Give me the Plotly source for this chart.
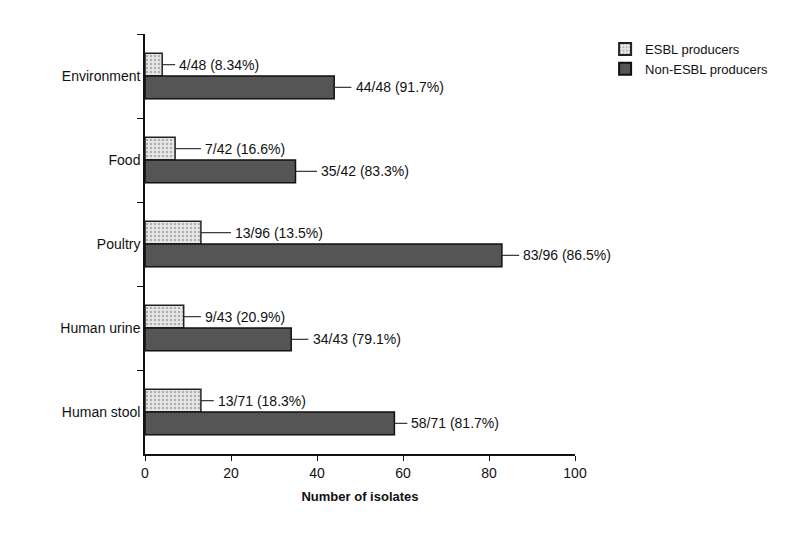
import plotly.graph_objects as go

categories = ["Environment", "Food", "Poultry", "Human urine", "Human stool"]
esbl = [4, 7, 13, 9, 13]
non_esbl = [44, 35, 83, 34, 58]
esbl_labels = ["4/48 (8.34%)", "7/42 (16.6%)", "13/96 (13.5%)", "9/43 (20.9%)", "13/71 (18.3%)"]
non_labels = ["44/48 (91.7%)", "35/42 (83.3%)", "83/96 (86.5%)", "34/43 (79.1%)", "58/71 (81.7%)"]
esbl_err = [3, 6, 7, 4, 3]
non_err = [4, 5, 4, 4, 3]

fig = go.Figure()
fig.add_trace(go.Bar(
    y=categories, x=esbl, orientation="h", name="ESBL producers",
    marker=dict(color="#e6e6e6", line=dict(color="#222", width=1.5),
                pattern=dict(shape=".", fgcolor="#777", bgcolor="#e6e6e6", size=4, solidity=0.3)),
    error_x=dict(type="data", array=esbl_err, arrayminus=[0] * 5, symmetric=False,
                 color="#333", thickness=1.2, width=0),
))
fig.add_trace(go.Bar(
    y=categories, x=non_esbl, orientation="h", name="Non-ESBL producers",
    marker=dict(color="#555555", line=dict(color="#111", width=1.5)),
    error_x=dict(type="data", array=non_err, arrayminus=[0] * 5, symmetric=False,
                 color="#333", thickness=1.2, width=0),
))

# value labels right of each error line
for i, c in enumerate(categories):
    fig.add_annotation(x=esbl[i] + esbl_err[i] + 0.5, y=c, yshift=11, text=esbl_labels[i],
                       xanchor="left", showarrow=False, font=dict(size=14, color="#111"))
    fig.add_annotation(x=non_esbl[i] + non_err[i] + 0.5, y=c, yshift=-11, text=non_labels[i],
                       xanchor="left", showarrow=False, font=dict(size=14, color="#111"))

fig.update_layout(
    width=797, height=545,
    barmode="group", bargap=0.46, bargroupgap=0,
    plot_bgcolor="white", paper_bgcolor="white",
    margin=dict(l=137, r=230, t=26, b=99, autoexpand=False),
    font=dict(family="Liberation Sans, Arial", size=14, color="#111"),
    legend=dict(x=1.07, y=1.0, xanchor="left", yanchor="top", font=dict(size=13),
                itemsizing="constant"),
)
fig.update_xaxes(range=[0, 100], dtick=20, showgrid=False, zeroline=False,
                 showline=True, linecolor="#111", linewidth=1.5, ticks="outside",
                 ticklen=5, tickcolor="#111",
                 title=dict(text="<b>Number of isolates</b>", standoff=12, font=dict(size=13)))
fig.update_yaxes(autorange="reversed", showgrid=False, showline=True, linecolor="#111",
                 linewidth=1.5, ticks="outside", tickson="boundaries", ticklen=6,
                 tickcolor="#111")

fig.write_html("out.html")
